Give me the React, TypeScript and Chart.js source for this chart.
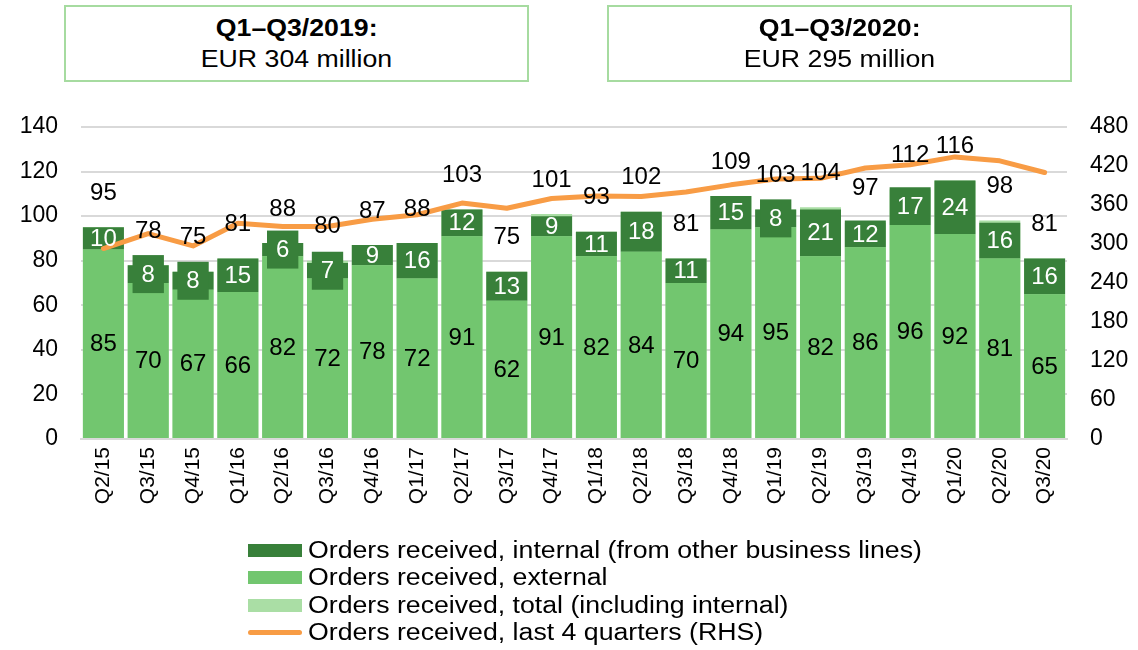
import React, { useEffect, useRef } from "react";
import { Chart, registerables } from "chart.js";

Chart.register(...registerables);

const quarters = ["Q2/15","Q3/15","Q4/15","Q1/16","Q2/16","Q3/16","Q4/16","Q1/17","Q2/17","Q3/17","Q4/17","Q1/18","Q2/18","Q3/18","Q4/18","Q1/19","Q2/19","Q3/19","Q4/19","Q1/20","Q2/20","Q3/20"];
const external = [85,70,67,66,82,72,78,72,91,62,91,82,84,70,94,95,82,86,96,92,81,65];
const internal = [10,8,8,15,6,7,9,16,12,13,9,11,18,11,15,8,21,12,17,24,16,16];
const total = [95,78,75,81,88,80,87,88,103,75,101,93,102,81,109,103,104,97,112,116,98,81];
const last4Quarters = [293,316,297,332,327,327,338,345,363,355,370,374,373,380,391,400,401,417,422,434,428,410];
const leftTicks = [0,20,40,60,80,100,120,140];
const rightTicks = [0,60,120,180,240,300,360,420,480];

const seriesNames = [
  "Orders received, internal (from other business lines)",
  "Orders received, external",
  "Orders received, total (including internal)",
  "Orders received, last 4 quarters (RHS)",
];

const DARK = "#38803a";
const LIGHT = "#72c66f";
const PALE = "#aadea5";
const ORANGE = "#f89c45";
const GRID = "#d9d9d9";
const FONT = '"Liberation Sans", Arial, sans-serif';

const labelPlugin = {
  id: "barLabels",
  afterDatasetsDraw(chart: any) {
    const ctx = chart.ctx;
    const ext = chart.getDatasetMeta(0).data;
    const int = chart.getDatasetMeta(1).data;
    const yScale = chart.scales.y;
    ctx.save();
    ctx.font = "24px " + FONT;
    ctx.textAlign = "center";
    ctx.textBaseline = "middle";
    quarters.forEach((_, i) => {
      const e = ext[i];
      const n = int[i];
      if (!e || !n) return;
      ctx.fillStyle = "#000";
      ctx.fillText(String(external[i]), e.x, (e.y + e.base) / 2 + 1);
      const txt = String(internal[i]);
      const cy = (n.y + n.base) / 2;
      if (internal[i] < 9) {
        const w = ctx.measureText(txt).width;
        const bw = Math.min(w + 18, n.width);
        ctx.fillStyle = DARK;
        ctx.fillRect(n.x - bw / 2, cy - 19, bw, 38);
      }
      ctx.fillStyle = "#fff";
      ctx.fillText(txt, n.x, cy + 1);
      const ty = yScale.getPixelForValue(total[i]) - 34;
      ctx.fillStyle = "#000";
      ctx.fillText(String(total[i]), n.x, ty);
    });
    ctx.restore();
  },
};

export default function App() {
  const ref = useRef<HTMLCanvasElement>(null);

  useEffect(() => {
    if (!ref.current) return;
    Chart.defaults.font.family = FONT;
    const chart = new Chart(ref.current, {
      type: "bar",
      data: {
        labels: quarters,
        datasets: [
          {
            label: seriesNames[1],
            data: external,
            backgroundColor: LIGHT,
            stack: "a",
            order: 1,
            categoryPercentage: 1,
            barPercentage: 0.915,
          } as any,
          {
            label: seriesNames[0],
            data: internal,
            backgroundColor: DARK,
            stack: "a",
            order: 1,
            categoryPercentage: 1,
            barPercentage: 0.915,
          },
          {
            label: seriesNames[2],
            data: total,
            backgroundColor: PALE,
            stack: "total",
            grouped: false,
            order: 2,
            categoryPercentage: 1,
            barPercentage: 0.915,
          },
          {
            type: "line",
            label: seriesNames[3],
            data: last4Quarters,
            borderColor: ORANGE,
            backgroundColor: ORANGE,
            borderWidth: 5,
            pointRadius: 0,
            tension: 0,
            yAxisID: "y1",
            order: 0,
            borderCapStyle: "round",
            borderJoinStyle: "round",
          },
        ],
      },
      options: {
        responsive: false,
        animation: false,
        devicePixelRatio: 1,
        layout: { padding: { top: 127, left: 0, right: 0, bottom: 0 } },
        plugins: {
          legend: { display: false },
          tooltip: { enabled: false },
        },
        scales: {
          x: {
            stacked: true,
            offset: true,
            grid: { display: false, drawTicks: false },
            border: { display: true, color: GRID, width: 2 },
            ticks: {
              autoSkip: false,
              minRotation: 90,
              maxRotation: 90,
              padding: 8,
              color: "#000",
              font: { size: 21, family: FONT },
            },
            afterFit: (s: any) => {
              s.height = 101;
            },
          },
          y: {
            stacked: true,
            min: 0,
            max: 140,
            afterBuildTicks: (s: any) => {
              s.ticks = leftTicks.map((v) => ({ value: v }));
            },
            grid: { color: GRID, lineWidth: 2, drawTicks: false },
            border: { display: false },
            ticks: {
              padding: 23,
              color: "#000",
              font: { size: 23, family: FONT },
            },
            afterFit: (s: any) => {
              s.width = 81;
            },
          },
          y1: {
            position: "right",
            min: 0,
            max: 480,
            afterBuildTicks: (s: any) => {
              s.ticks = rightTicks.map((v) => ({ value: v }));
            },
            grid: { display: false, drawTicks: false },
            border: { display: false },
            ticks: {
              padding: 23,
              color: "#000",
              font: { size: 23, family: FONT },
            },
            afterFit: (s: any) => {
              s.width = 71;
            },
          },
        },
      } as any,
      plugins: [labelPlugin],
    });
    return () => chart.destroy();
  }, []);

  const boxStyle = (left: number, width: number): React.CSSProperties => ({
    position: "absolute",
    left,
    top: 5,
    width,
    height: 77,
    boxSizing: "border-box",
    border: "2px solid #a6dba0",
    display: "flex",
    flexDirection: "column",
    alignItems: "center",
    justifyContent: "center",
    fontSize: 23,
    lineHeight: "31px",
    color: "#000",
    background: "#fff",
  });

  const stretch: React.CSSProperties = {
    display: "inline-block",
    transform: "scaleX(1.16)",
  };

  const swatches = [
    { color: DARK, line: false },
    { color: LIGHT, line: false },
    { color: PALE, line: false },
    { color: ORANGE, line: true },
  ];

  return (
    <div
      style={{
        position: "absolute",
        left: 0,
        top: 0,
        width: 1138,
        height: 650,
        background: "#fff",
        fontFamily: FONT,
        overflow: "hidden",
      }}
    >
      <canvas
        ref={ref}
        width={1138}
        height={540}
        style={{ position: "absolute", left: 0, top: 0, width: 1138, height: 540 }}
      />
      <div style={boxStyle(64, 465)}>
        <div style={{ ...stretch, fontWeight: "bold" }}>Q1–Q3/2019:</div>
        <div style={stretch}>EUR 304 million</div>
      </div>
      <div style={boxStyle(607, 465)}>
        <div style={{ ...stretch, fontWeight: "bold" }}>Q1–Q3/2020:</div>
        <div style={stretch}>EUR 295 million</div>
      </div>
      <div style={{ position: "absolute", left: 248, top: 537 }}>
        {seriesNames.map((name, i) => (
          <div
            key={name}
            style={{ display: "flex", alignItems: "center", height: 27.3, fontSize: 23, whiteSpace: "nowrap" }}
          >
            <span
              style={{
                display: "inline-block",
                width: 54,
                height: swatches[i].line ? 5 : 13,
                borderRadius: swatches[i].line ? 3 : 0,
                background: swatches[i].color,
                marginRight: 6,
                flex: "none",
              }}
            />
            <span style={{ ...stretch, transformOrigin: "left center" }}>{name}</span>
          </div>
        ))}
      </div>
    </div>
  );
}
